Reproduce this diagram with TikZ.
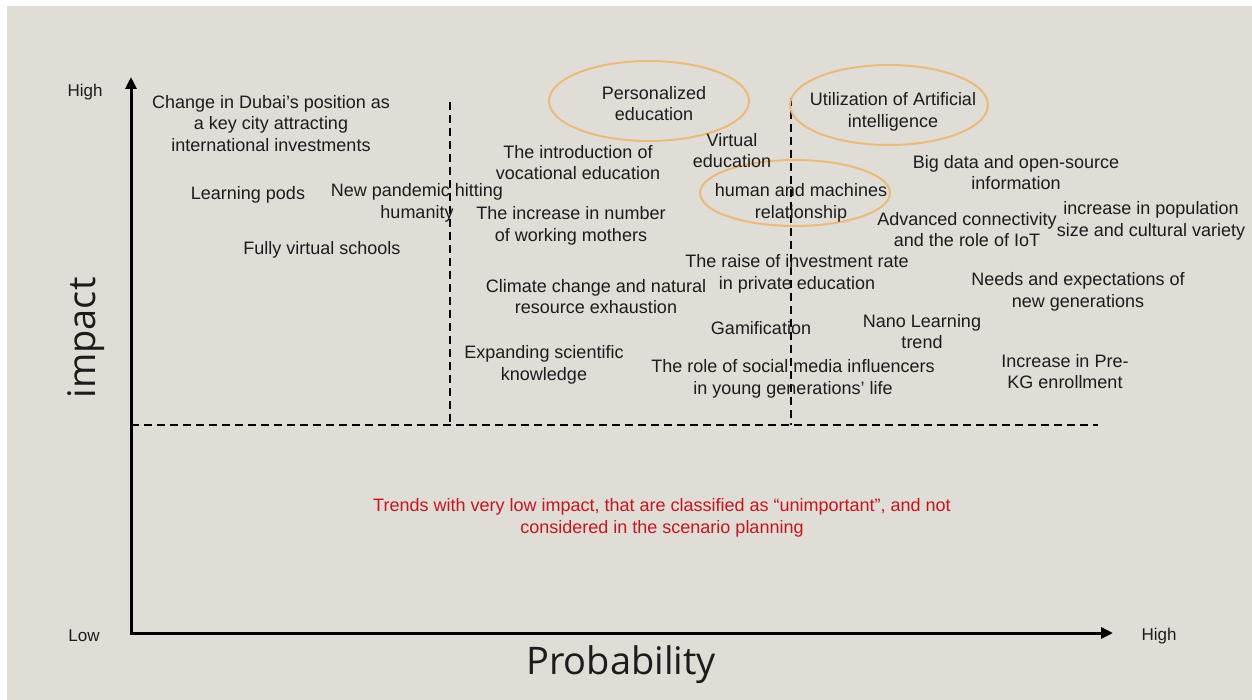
\documentclass[tikz,border=0pt]{standalone}
\usepackage{fontspec}
\setmainfont{Liberation Sans}
\newfontfamily\axisfont{Open Sans}
\usetikzlibrary{arrows.meta}
\definecolor{panel}{RGB}{224,221,215}
\definecolor{ringcol}{RGB}{234,186,124}
\definecolor{ink}{RGB}{28,28,28}
\definecolor{warn}{RGB}{196,22,30}

\begin{document}
\begin{tikzpicture}[x=1pt,y=-1pt,
  trend/.style={align=center, text=ink, inner sep=0pt, yshift=-1.5pt,
                font=\fontsize{18}{21.8}\selectfont},
  tick/.style={text=ink, inner sep=0pt, yshift=-2pt, font=\fontsize{17}{20}\selectfont},
  axistitle/.style={text=ink, inner sep=0pt, font=\axisfont\fontsize{38}{44}\selectfont},
  trendring/.style={draw=ringcol, line width=2pt},
  axisline/.style={line width=3pt, line join=miter,
                   {Triangle[length=12pt,width=11pt]}-{Triangle[length=12pt,width=11pt]}},
  divider/.style={line width=1.6pt, dash pattern=on 8pt off 5pt}]

% canvas
\useasboundingbox (0,0) rectangle (1252,700);
\fill[white] (0,0) rectangle (1252,700);
\fill[panel] (7,6) rectangle (1252,700);

% axes
\coordinate (O) at (131,633);
\coordinate (ytop) at (131,77);
\coordinate (xend) at (1113,633);
\draw[axisline] (ytop) -- (O) -- (xend);

% quadrant dividers
\coordinate (hl) at (131,425);
\coordinate (hr) at (1098,425);
\coordinate (v1t) at (450,102);
\coordinate (v1b) at (450,425);
\coordinate (v2t) at (791,98);
\coordinate (v2b) at (791,425);
\draw[divider] (hl) -- (hr);
\draw[divider] (v1t) -- (v1b);
\draw[divider] (v2t) -- (v2b);

% axis labels
\node[tick] (yhigh) at (85,90) {High};
\node[tick] (ylow) at (84,634) {Low};
\node[tick] (xhigh) at (1159,634) {High};
\node[axistitle, rotate=90] (ytitle) at (86,338) {impact};
\node[axistitle] (xtitle) at (621,665) {Probability};

% highlighted trends
\draw[trendring] (649,101) ellipse [x radius=100, y radius=40];
\draw[trendring] (889,105) ellipse [x radius=99, y radius=40];
\draw[trendring] (795,193) ellipse [x radius=95, y radius=33];

% trends
\node[trend] (t1) at (271,122) {Change in Dubai’s position as\\a key city attracting\\international investments};
\node[trend] (t2) at (248,193) {Learning pods};
\node[trend] (t3) at (417,201) {New pandemic hitting\\humanity};
\node[trend] (t4) at (322,248) {Fully virtual schools};
\node[trend] (t5) at (654,102) {Personalized\\education};
\node[trend] (t6) at (578,161) {The introduction of\\vocational education};
\node[trend] (t7) at (732,149) {Virtual\\education};
\node[trend] (t8) at (571,224) {The increase in number\\of working mothers};
\node[trend] (t9) at (893,110) {Utilization of Artificial\\intelligence};
\node[trend] (t10) at (801,201) {human and machines\\relationship};
\node[trend] (t11) at (1016,171) {Big data and open-source\\information};
\node[trend] (t12) at (967,228) {Advanced connectivity\\and the role of IoT};
\node[trend] (t13) at (1151,219) {increase in population\\size and cultural variety};
\node[trend] (t14) at (797,272) {The raise of investment rate\\in private education};
\node[trend] (t15) at (596,295) {Climate change and natural\\resource exhaustion};
\node[trend] (t16) at (1078,290) {Needs and expectations of\\new generations};
\node[trend] (t17) at (761,327) {Gamification};
\node[trend] (t18) at (922,330) {Nano Learning\\trend};
\node[trend] (t19) at (544,363) {Expanding scientific\\knowledge};
\node[trend] (t20) at (793,377) {The role of social media influencers\\in young generations’ life};
\node[trend] (t21) at (1065,370) {Increase in Pre-\\KG enrollment};

% low-impact note
\node[trend, text=warn] (note) at (662,516) {Trends with very low impact, that are classified as “unimportant”, and not\\considered in the scenario planning};
\end{tikzpicture}
\end{document}
